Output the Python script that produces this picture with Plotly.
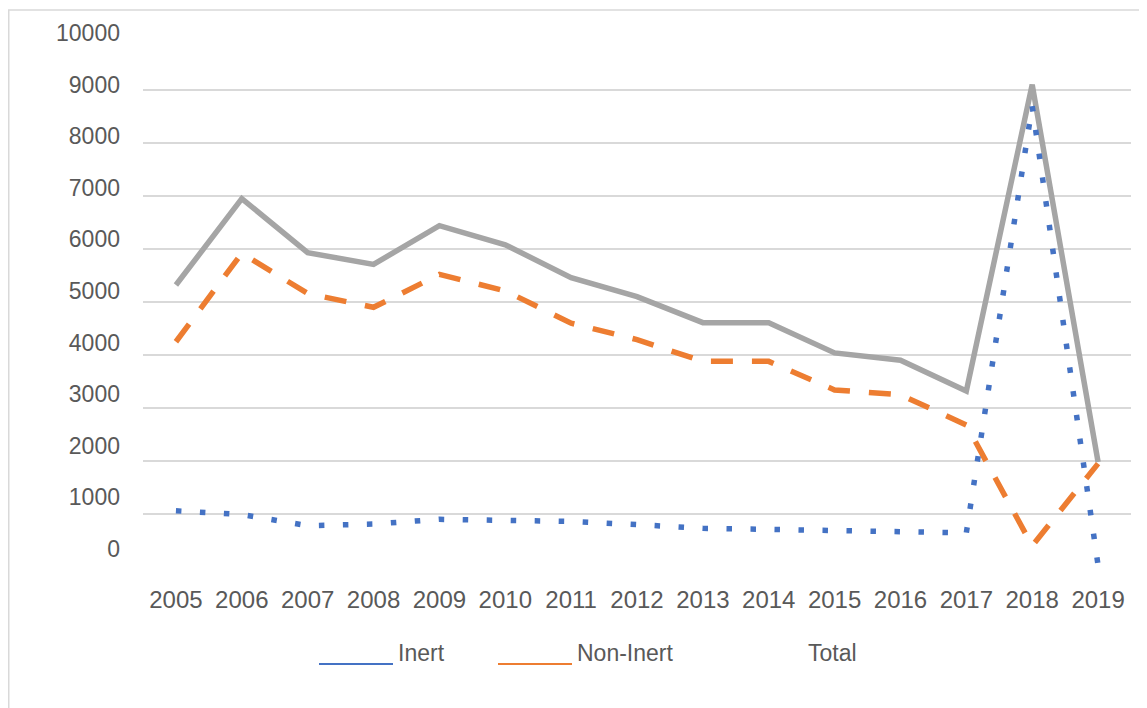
import plotly.graph_objects as go

# ---------------- data ----------------
years = ["2005", "2006", "2007", "2008", "2009", "2010", "2011", "2012",
         "2013", "2014", "2015", "2016", "2017", "2018", "2019"]
inert = [1060, 990, 780, 810, 900, 880, 860, 800, 730, 710, 685, 660, 645, 8700, 30]
non_inert = [4250, 5920, 5160, 4900, 5520, 5210, 4600, 4290, 3880, 3880, 3340, 3250, 2680, 400, 1950]
total = [5320, 6950, 5930, 5710, 6440, 6080, 5460, 5100, 4610, 4610, 4040, 3900, 3320, 9100, 1980]
y_ticks = [0, 1000, 2000, 3000, 4000, 5000, 6000, 7000, 8000, 9000, 10000]
legend_labels = ["Inert", "Non-Inert", "Total"]

# ---------------- layout helpers ----------------
# the page body has an 8px margin, so figure pixel = page pixel - 8
OFF = 8
W, H = 1147, 708
L = 143 - OFF
R = W - (1131 - OFF)
T = 25 - OFF
B = H - (567 - OFF)
plot_w = W - L - R
plot_h = H - T - B


def px(p):
    return (p - OFF - L) / plot_w


def py(p):
    return (H - B - (p - OFF)) / plot_h


BLUE = "#4472C4"
ORANGE = "#ED7D31"
GRAY = "#A5A5A5"
TXT = "#595959"
GRID = "#D9D9D9"
FONT = "Liberation Sans, Arial, sans-serif"

fig = go.Figure()
fig.add_trace(go.Scatter(x=years, y=total, mode="lines", name=legend_labels[2],
                         line=dict(color=GRAY, width=5.5), showlegend=False))
fig.add_trace(go.Scatter(x=years, y=non_inert, mode="lines", name=legend_labels[1],
                         line=dict(color=ORANGE, width=5.5, dash="22px,19px"), showlegend=False))
fig.add_trace(go.Scatter(x=years, y=inert, mode="lines", name=legend_labels[0],
                         line=dict(color=BLUE, width=5.5, dash="5.5px,18.5px"), showlegend=False))
# carrier trace for the tick-label axis
fig.add_trace(go.Scatter(x=years, y=total, yaxis="y2", mode="lines", opacity=0,
                         line=dict(width=0), showlegend=False, hoverinfo="skip"))

fig.update_layout(
    width=W, height=H, autosize=False,
    margin=dict(l=L, r=R, t=T, b=B, autoexpand=False),
    paper_bgcolor="white", plot_bgcolor="rgba(0,0,0,0)",
    font=dict(family=FONT, size=24, color=TXT),
    showlegend=False,
    xaxis=dict(type="category", range=[-0.5, 14.5], showgrid=False, showline=False,
               zeroline=False, ticks="", tickfont=dict(size=24, color=TXT),
               anchor="y", ticklabelstandoff=16, automargin=False),
    yaxis=dict(range=[0, 10000], domain=[0, py(37)], tickvals=y_ticks[:-1],
               showticklabels=False, showgrid=True, gridcolor=GRID, gridwidth=1.5,
               zeroline=False, showline=False, ticks="", automargin=False),
    yaxis2=dict(range=[0, 10000], domain=[py(549), py(33)], tickvals=y_ticks,
                ticktext=[str(v) for v in y_ticks],
                anchor="free", position=0, side="left", showgrid=False, zeroline=False,
                showline=False, ticks="", tickfont=dict(size=23, color=TXT),
                ticklabelstandoff=23, automargin=False),
)

# outer chart border
fig.add_shape(type="rect", xref="paper", yref="paper",
              x0=px(8.75), x1=px(1170), y0=py(730), y1=py(10),
              line=dict(color=GRID, width=1.5), layer="below")

# legend (manual, Excel style)
leg_items = [(legend_labels[0], BLUE, 319, 393, 397),
             (legend_labels[1], ORANGE, 498, 572, 576),
             (legend_labels[2], None, 730, 803, 807)]
for label, col, lx0, lx1, tx in leg_items:
    if col:
        fig.add_shape(type="line", xref="paper", yref="paper",
                      x0=px(lx0), x1=px(lx1), y0=py(664), y1=py(664),
                      line=dict(color=col, width=2))
    fig.add_annotation(text=label, xref="paper", yref="paper", x=px(tx), y=py(653),
                       xanchor="left", yanchor="middle", showarrow=False,
                       font=dict(size=23, color=TXT, family=FONT), borderpad=0)

fig.write_html("out.html")
